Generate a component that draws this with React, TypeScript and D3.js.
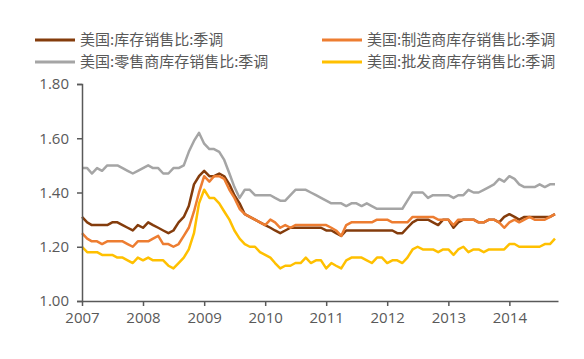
import React, { useEffect, useRef } from 'react';
import * as d3 from 'd3';

// monthly, Jan 2007 .. Oct 2014
const totalRatio = [
  1.31, 1.29, 1.28, 1.28, 1.28, 1.28, 1.29, 1.29, 1.28, 1.27, 1.26, 1.28,
  1.27, 1.29, 1.28, 1.27, 1.26, 1.25, 1.26, 1.29, 1.31, 1.35, 1.43, 1.46,
  1.48, 1.46, 1.46, 1.47, 1.46, 1.43, 1.39, 1.36, 1.32, 1.31, 1.30, 1.29,
  1.28, 1.27, 1.26, 1.25, 1.26, 1.27, 1.27, 1.27, 1.27, 1.27, 1.27, 1.27,
  1.26, 1.26, 1.25, 1.24, 1.26, 1.26, 1.26, 1.26, 1.26, 1.26, 1.26, 1.26,
  1.26, 1.26, 1.25, 1.25, 1.27, 1.29, 1.30, 1.30, 1.30, 1.29, 1.28, 1.30,
  1.30, 1.27, 1.29, 1.30, 1.30, 1.30, 1.29, 1.29, 1.30, 1.30, 1.29, 1.31,
  1.32, 1.31, 1.30, 1.31, 1.31, 1.31, 1.31, 1.31, 1.31, 1.32,
];

const mfgRatio = [
  1.25, 1.23, 1.22, 1.22, 1.21, 1.22, 1.22, 1.22, 1.22, 1.21, 1.20, 1.22,
  1.22, 1.22, 1.23, 1.24, 1.21, 1.21, 1.20, 1.21, 1.24, 1.27, 1.33, 1.40,
  1.46, 1.44, 1.46, 1.46, 1.45, 1.41, 1.38, 1.34, 1.32, 1.31, 1.30, 1.29,
  1.28, 1.30, 1.29, 1.27, 1.28, 1.27, 1.28, 1.28, 1.28, 1.28, 1.28, 1.28,
  1.28, 1.27, 1.26, 1.24, 1.28, 1.29, 1.29, 1.29, 1.29, 1.29, 1.30, 1.30,
  1.30, 1.29, 1.29, 1.29, 1.29, 1.31, 1.31, 1.31, 1.31, 1.31, 1.30, 1.30,
  1.30, 1.28, 1.30, 1.30, 1.30, 1.30, 1.29, 1.29, 1.30, 1.30, 1.29, 1.27,
  1.29, 1.30, 1.29, 1.30, 1.31, 1.30, 1.30, 1.30, 1.31, 1.32,
];

const retailRatio = [
  1.49, 1.49, 1.47, 1.49, 1.48, 1.50, 1.50, 1.50, 1.49, 1.48, 1.47, 1.48,
  1.49, 1.50, 1.49, 1.49, 1.47, 1.47, 1.49, 1.49, 1.50, 1.55, 1.59, 1.62,
  1.58, 1.56, 1.56, 1.55, 1.52, 1.47, 1.42, 1.38, 1.41, 1.41, 1.39, 1.39,
  1.39, 1.39, 1.38, 1.37, 1.37, 1.39, 1.41, 1.41, 1.41, 1.40, 1.39, 1.38,
  1.37, 1.36, 1.36, 1.36, 1.35, 1.36, 1.36, 1.35, 1.36, 1.35, 1.34, 1.34,
  1.34, 1.34, 1.34, 1.34, 1.37, 1.40, 1.40, 1.40, 1.38, 1.39, 1.39, 1.39,
  1.39, 1.38, 1.39, 1.39, 1.41, 1.40, 1.40, 1.41, 1.42, 1.43, 1.45, 1.44,
  1.46, 1.45, 1.43, 1.42, 1.42, 1.42, 1.43, 1.42, 1.43, 1.43,
];

const wholesaleRatio = [
  1.20, 1.18, 1.18, 1.18, 1.17, 1.17, 1.17, 1.16, 1.16, 1.15, 1.14, 1.16,
  1.15, 1.16, 1.15, 1.15, 1.15, 1.13, 1.12, 1.14, 1.16, 1.19, 1.25, 1.36,
  1.41, 1.38, 1.38, 1.36, 1.33, 1.30, 1.26, 1.23, 1.21, 1.20, 1.20, 1.18,
  1.17, 1.16, 1.14, 1.12, 1.13, 1.13, 1.14, 1.14, 1.16, 1.14, 1.15, 1.15,
  1.12, 1.14, 1.13, 1.12, 1.15, 1.16, 1.16, 1.16, 1.15, 1.14, 1.16, 1.16,
  1.14, 1.15, 1.15, 1.14, 1.16, 1.19, 1.20, 1.19, 1.19, 1.19, 1.18, 1.19,
  1.19, 1.17, 1.19, 1.20, 1.18, 1.19, 1.19, 1.18, 1.19, 1.19, 1.19, 1.19,
  1.21, 1.21, 1.20, 1.20, 1.20, 1.20, 1.20, 1.21, 1.21, 1.23,
];

const yTicks = [1.0, 1.2, 1.4, 1.6, 1.8];
const xYears = [2007, 2008, 2009, 2010, 2011, 2012, 2013, 2014];

const seriesList = [
  { name: '美国:库存销售比:季调', values: totalRatio, color: '#843c0c' },
  { name: '美国:制造商库存销售比:季调', values: mfgRatio, color: '#ed7d31' },
  { name: '美国:零售商库存销售比:季调', values: retailRatio, color: '#a5a5a5' },
  { name: '美国:批发商库存销售比:季调', values: wholesaleRatio, color: '#ffc000' },
];

const W = 584;
const H = 359;
const textColor = '#595959';
const axisColor = '#595959';
const numFont = '"Open Sans", "Noto Sans", sans-serif';
const cjkFont = '"Noto Sans CJK SC", "Noto Sans", sans-serif';

const App: React.FC = () => {
  const svgRef = useRef<SVGSVGElement>(null);

  useEffect(() => {
    if (!svgRef.current) return;
    const svg = d3.select(svgRef.current);
    svg.selectAll('*').remove();

    const left = 82, right = 558, top = 84, bottom = 301;
    const start = new Date(2007, 0, 1);
    const x = d3.scaleTime()
      .domain([start, new Date(2014, 9, 19)])
      .range([left, right]);
    const y = d3.scaleLinear().domain([1.0, 1.8]).range([bottom, top]);

    svg.append('rect').attr('width', W).attr('height', H).attr('fill', '#fff');

    // lines
    seriesList.forEach(s => {
      const line = d3.line<number>()
        .x((_, i) => x(d3.timeMonth.offset(start, i)))
        .y(d => y(d));
      svg.append('path')
        .datum(s.values)
        .attr('d', line)
        .attr('fill', 'none')
        .attr('stroke', s.color)
        .attr('stroke-width', 2.5)
        .attr('stroke-linejoin', 'round');
    });

    // y axis
    const yAxis = svg.append('g')
      .attr('transform', `translate(${left},0)`)
      .call(d3.axisLeft(y).tickValues(yTicks).tickSize(5).tickPadding(8).tickFormat(d3.format('.2f')));
    yAxis.select('.domain').attr('stroke', axisColor).attr('stroke-width', 1.5);
    yAxis.selectAll('.tick line').attr('stroke', axisColor).attr('stroke-width', 1.5);
    yAxis.selectAll('.tick text')
      .attr('fill', textColor).attr('font-size', 15).attr('font-family', numFont);

    // x axis
    const xAxis = svg.append('g')
      .attr('transform', `translate(0,${bottom})`)
      .call(d3.axisBottom(x)
        .tickValues(xYears.map(yr => new Date(yr, 0, 1)))
        .tickSize(5).tickPadding(6).tickSizeOuter(0)
        .tickFormat(d => d3.timeFormat('%Y')(d as Date)));
    xAxis.select('.domain').attr('stroke', axisColor).attr('stroke-width', 1.5);
    xAxis.selectAll('.tick line').attr('stroke', axisColor).attr('stroke-width', 1.5);
    xAxis.selectAll('.tick text')
      .attr('fill', textColor).attr('font-size', 15).attr('font-family', numFont);

    // legend
    const legendPos = [
      { lx: 35, ly: 40 },
      { lx: 322, ly: 40 },
      { lx: 35, ly: 62 },
      { lx: 322, ly: 62 },
    ];
    seriesList.forEach((s, i) => {
      const p = legendPos[i];
      const g = svg.append('g').attr('transform', `translate(${p.lx},${p.ly})`);
      g.append('line')
        .attr('x1', 0).attr('x2', 40).attr('y1', 0).attr('y2', 0)
        .attr('stroke', s.color).attr('stroke-width', 3);
      g.append('text')
        .attr('x', 45).attr('y', 0).attr('dy', '0.35em')
        .attr('fill', textColor).attr('font-size', 15).attr('font-family', cjkFont)
        .text(s.name);
    });
  }, []);

  return (
    <svg ref={svgRef} width={W} height={H}
      style={{ position: 'absolute', left: 0, top: 0, display: 'block' }} />
  );
};

export default App;
